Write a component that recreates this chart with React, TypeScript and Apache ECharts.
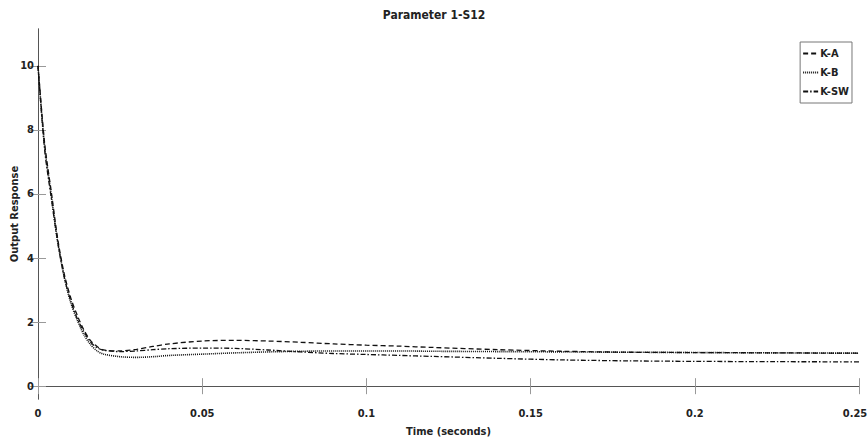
import React, { useEffect, useRef } from "react";
import * as echarts from "echarts";

const time = [0, 0.002, 0.004, 0.006, 0.008, 0.01, 0.012, 0.014, 0.016, 0.018, 0.02, 0.025, 0.03, 0.035, 0.04, 0.05, 0.06, 0.07, 0.08, 0.09, 0.1, 0.11, 0.12, 0.14, 0.16, 0.18, 0.2, 0.225, 0.25];
const kA = [10, 7.6, 6.1, 4.6, 3.5, 2.75, 2.2, 1.75, 1.42, 1.24, 1.13, 1.1, 1.15, 1.24, 1.32, 1.41, 1.43, 1.41, 1.37, 1.32, 1.28, 1.25, 1.21, 1.14, 1.09, 1.06, 1.05, 1.04, 1.03];
const kB = [10, 7.5, 6.0, 4.5, 3.4, 2.6, 2.05, 1.6, 1.3, 1.1, 1.0, 0.92, 0.9, 0.92, 0.96, 1.0, 1.04, 1.07, 1.09, 1.1, 1.1, 1.1, 1.09, 1.08, 1.07, 1.06, 1.05, 1.04, 1.03];
const kSW = [10, 7.4, 5.9, 4.5, 3.4, 2.65, 2.1, 1.7, 1.38, 1.2, 1.12, 1.08, 1.1, 1.14, 1.17, 1.19, 1.18, 1.13, 1.07, 1.02, 0.99, 0.96, 0.93, 0.87, 0.82, 0.79, 0.775, 0.765, 0.76];
const seriesNames = ["K-A", "K-B", "K-SW"];
const yTicks = [0, 2, 4, 6, 8, 10];
const xTicks = [0, 0.05, 0.1, 0.15, 0.2, 0.25];

const FONT = "'Liberation Sans Narrow', 'Arial Narrow', 'DejaVu Sans Condensed', 'Liberation Sans', Arial, sans-serif";

export default function App() {
  const ref = useRef<HTMLDivElement>(null);
  useEffect(() => {
    if (!ref.current) return;
    const chart = echarts.init(ref.current, null, { renderer: "svg" });
    const pair = (ys: number[]) => time.map((t, i) => [t, ys[i]]);
    const axisLine = { show: true, lineStyle: { color: "#555", width: 1 } };
    const tick = { show: true, inside: true, length: 8, lineStyle: { color: "#999", width: 1 } };
    const lbl = { fontFamily: FONT, fontWeight: "bold" as const, fontSize: 11, color: "#222" };
    const xMax = xTicks[xTicks.length - 1];
    chart.setOption({
      animation: false,
      backgroundColor: "#fff",
      title: {
        text: "Parameter 1-S12",
        left: "center",
        top: 4,
        textStyle: { fontFamily: FONT, fontWeight: "bold", fontSize: 12, color: "#222" },
      },
      legend: {
        data: seriesNames,
        orient: "vertical",
        right: 16,
        top: 42,
        padding: [6, 3, 6, 2],
        itemGap: 8,
        itemWidth: 15,
        itemHeight: 11,
        borderColor: "#777",
        borderWidth: 1,
        backgroundColor: "#fff",
        itemStyle: { opacity: 0 },
        textStyle: { fontFamily: FONT, fontWeight: "bold", fontSize: 11, color: "#222", padding: [0, 0, 0, -3] },
      },
      grid: { left: 38, right: 9, top: 29, bottom: 48, containLabel: false, outerBoundsMode: "none" },
      xAxis: [
        {
          type: "value",
          min: 0,
          max: xMax,
          interval: 0.05,
          position: "bottom",
          name: "Time (seconds)",
          nameLocation: "middle",
          nameGap: 27,
          nameMoveOverlap: false,
          nameTextStyle: { fontFamily: FONT, fontWeight: "bold", fontSize: 11, color: "#222" },
          axisLine,
          axisTick: tick,
          splitLine: { show: false },
          axisLabel: {
            ...lbl,
            margin: 9,
            customValues: xTicks,
            formatter: (v: number) => {
              const s = String(parseFloat(v.toFixed(3)));
              return Math.abs(v - xMax) < 1e-9 ? `{m|${s}}` : s;
            },
            rich: { m: { ...lbl, padding: [0, 8, 0, 0] } },
          },
        },
        {
          type: "value",
          min: 0,
          max: xMax,
          interval: 0.05,
          position: "top",
          axisLine,
          axisTick: tick,
          axisLabel: { show: false },
          splitLine: { show: false },
        },
      ],
      yAxis: [
        {
          type: "value",
          min: -0.4,
          max: 11.15,
          position: "left",
          name: "Output Response",
          nameLocation: "middle",
          nameGap: 18,
          nameMoveOverlap: false,
          nameRotate: 90,
          nameTextStyle: { fontFamily: FONT, fontWeight: "bold", fontSize: 11, color: "#222" },
          axisLine,
          axisTick: { ...tick, customValues: yTicks },
          axisLabel: { ...lbl, margin: 4, customValues: yTicks },
          splitLine: { show: false },
        },
        {
          type: "value",
          min: -0.4,
          max: 11.15,
          position: "right",
          axisLine,
          axisTick: { ...tick, customValues: yTicks },
          axisLabel: { show: false },
          splitLine: { show: false },
        },
      ],
      series: [
        {
          name: "K-A",
          type: "line",
          data: pair(kA),
          symbol: "none",
          smooth: 0.3,
          lineStyle: { color: "#111", width: 1.3, type: [5, 3] },
          itemStyle: { color: "#111" },
        },
        {
          name: "K-B",
          type: "line",
          data: pair(kB),
          symbol: "none",
          smooth: 0.3,
          lineStyle: { color: "#111", width: 1.6, type: [1, 1] },
          itemStyle: { color: "#111" },
        },
        {
          name: "K-SW",
          type: "line",
          data: pair(kSW),
          symbol: "none",
          smooth: 0.3,
          lineStyle: { color: "#111", width: 1.3, type: [5, 2, 1.5, 2] },
          itemStyle: { color: "#111" },
        },
      ],
    });
    return () => chart.dispose();
  }, []);
  return <div ref={ref} style={{ width: 868, height: 447, position: "absolute", left: 0, top: 0 }} />;
}
